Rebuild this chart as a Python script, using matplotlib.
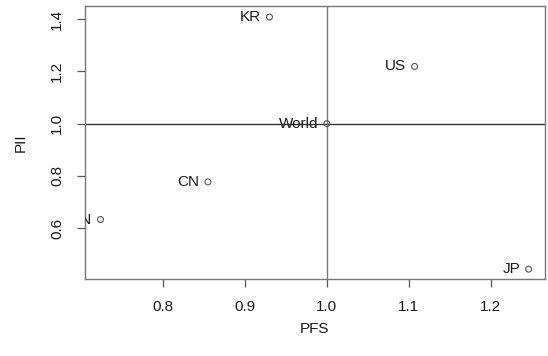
import matplotlib
matplotlib.use("Agg")
import matplotlib.pyplot as plt

plt.rcParams['font.family'] = ['Liberation Sans', 'DejaVu Sans']

countries = ["KR", "US", "World", "CN", "IN", "JP"]
pfs = [0.930, 1.107, 1.000, 0.855, 0.724, 1.246]
pii = [1.408, 1.219, 1.000, 0.777, 0.633, 0.443]

fig = plt.figure(figsize=(5.48, 3.56), dpi=100)
ax = fig.add_axes([0.155, 0.216, 0.8395, 0.767])

ax.axhline(1.0, color='#333333', lw=1.0, zorder=1)
ax.axvline(1.0, color='#777777', lw=1.0, zorder=1)

ax.scatter(pfs, pii, s=18, facecolors='none', edgecolors='#555555', linewidths=0.8, zorder=3)
for name, x, y in zip(countries, pfs, pii):
    ax.annotate(name, (x, y), xytext=(-6, 0), textcoords='offset points',
                ha='right', va='center', fontsize=11, color='#1a1a1a', clip_on=True)

ax.set_xlim(0.705, 1.266)
ax.set_ylim(0.405, 1.45)
ax.set_xticks([0.8, 0.9, 1.0, 1.1, 1.2])
ax.set_yticks([0.6, 0.8, 1.0, 1.2, 1.4])
ax.set_yticklabels(["0.6", "0.8", "1.0", "1.2", "1.4"], rotation=90, va='center')
ax.tick_params(length=6, width=0.9, color='#555555', labelsize=11, labelcolor='#1a1a1a', pad=9)
for s in ax.spines.values():
    s.set_color('#777777')
    s.set_linewidth(1.0)

ax.set_xlabel("PFS", fontsize=11, color='#1a1a1a', labelpad=6)
ax.set_ylabel("PII", fontsize=11, color='#1a1a1a', labelpad=16)

fig.savefig("out.png", dpi=100)
